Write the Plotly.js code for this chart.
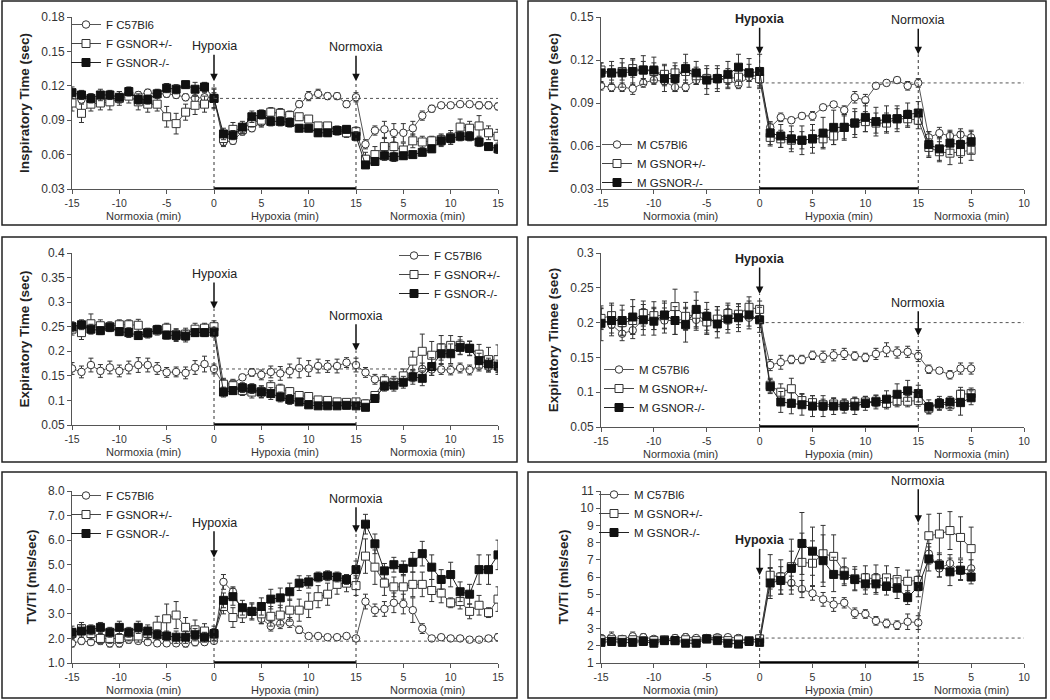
<!DOCTYPE html>
<html>
<head>
<meta charset="utf-8">
<script src="https://cdn.plot.ly/plotly-3.0.1.min.js"></script>
<style>
  body { margin: 0; background: #fff; }
  #chart { width: 1050px; height: 700px; }
</style>
</head>
<body>
<div id="chart"></div>
<script>
// time axis: -15..0 normoxia, 0..15 hypoxia, then recovery normoxia
const minutesF = [-15,-14,-13,-12,-11,-10,-9,-8,-7,-6,-5,-4,-3,-2,-1,0,1,2,3,4,5,6,7,8,9,10,11,12,13,14,15,16,17,18,19,20,21,22,23,24,25,26,27,28,29,30];
const minutesM = [-15,-14,-13,-12,-11,-10,-9,-8,-7,-6,-5,-4,-3,-2,-1,0,1,2,3,4,5,6,7,8,9,10,11,12,13,14,15,16,17,18,19,20];
const tickValsF = [-15,-10,-5,0,5,10,15,20,25,30];
const tickTextF = ['-15','-10','-5','0','5','10','15','5','10','15'];
const tickValsM = [-15,-10,-5,0,5,10,15,20,25];
const tickTextM = ['-15','-10','-5','0','5','10','15','5','10'];
const genotypes = ['C57Bl6', 'GSNOR+/-', 'GSNOR-/-'];
const phaseLabels = ['Normoxia (min)', 'Hypoxia (min)', 'Normoxia (min)'];

// female inspiratory time
const fInspC57 = [0.110,0.108,0.110,0.107,0.108,0.110,0.112,0.112,0.114,0.113,0.113,0.112,0.110,0.109,0.110,0.110, 0.071,0.072,0.080,0.083,0.088,0.096,0.097,0.093,0.104,0.111,0.113,0.111,0.111,0.104,0.110, 0.069,0.081,0.082,0.079,0.079,0.083,0.094,0.100,0.103,0.103,0.104,0.104,0.103,0.103,0.102];
const fInspHet = [0.105,0.096,0.104,0.105,0.106,0.109,0.111,0.106,0.104,0.104,0.093,0.087,0.097,0.103,0.104,0.109, 0.074,0.082,0.082,0.088,0.090,0.097,0.096,0.094,0.093,0.091,0.085,0.085,0.081,0.079,0.080, 0.056,0.060,0.067,0.067,0.064,0.072,0.071,0.072,0.073,0.075,0.084,0.083,0.085,0.079,0.076];
const fInspKo = [0.114,0.112,0.109,0.112,0.112,0.110,0.115,0.108,0.108,0.113,0.118,0.117,0.121,0.117,0.119,0.109, 0.078,0.077,0.084,0.093,0.095,0.089,0.089,0.088,0.083,0.083,0.079,0.079,0.081,0.082,0.076, 0.051,0.054,0.059,0.058,0.059,0.060,0.062,0.065,0.072,0.074,0.076,0.076,0.071,0.067,0.065];
const fInspC57Err = [0.003,0.003,0.003,0.004,0.003,0.003,0.003,0.003,0.003,0.003,0.003,0.003,0.003,0.003,0.004,0.004, 0.004,0.003,0.003,0.003,0.004,0.004,0.003,0.003,0.003,0.004,0.004,0.003,0.003,0.003,0.004, 0.004,0.004,0.007,0.008,0.008,0.006,0.004,0.003,0.002,0.002,0.002,0.002,0.003,0.003,0.003];
const fInspHetErr = [0.007,0.008,0.006,0.006,0.007,0.006,0.006,0.007,0.007,0.006,0.009,0.009,0.007,0.008,0.007,0.008, 0.006,0.006,0.004,0.004,0.005,0.004,0.004,0.004,0.003,0.003,0.003,0.003,0.004,0.004,0.004, 0.006,0.007,0.007,0.008,0.006,0.006,0.005,0.004,0.005,0.006,0.007,0.006,0.009,0.006,0.006];
const fInspKoErr = [0.005,0.004,0.004,0.005,0.004,0.005,0.004,0.004,0.004,0.004,0.004,0.004,0.003,0.006,0.004,0.009, 0.005,0.004,0.005,0.005,0.004,0.004,0.004,0.004,0.003,0.003,0.003,0.003,0.003,0.003,0.004, 0.003,0.003,0.004,0.004,0.003,0.003,0.003,0.003,0.005,0.005,0.004,0.004,0.004,0.003,0.004];

// male inspiratory time
const mInspC57 = [0.102,0.101,0.101,0.100,0.104,0.106,0.105,0.101,0.101,0.106,0.107,0.107,0.106,0.103,0.108,0.106, 0.073,0.080,0.078,0.081,0.081,0.087,0.089,0.085,0.094,0.092,0.102,0.104,0.106,0.102,0.104, 0.066,0.069,0.067,0.068,0.066];
const mInspHet = [0.113,0.111,0.112,0.114,0.113,0.112,0.110,0.111,0.112,0.109,0.107,0.107,0.107,0.108,0.111,0.107, 0.066,0.065,0.064,0.064,0.065,0.065,0.067,0.073,0.076,0.077,0.076,0.076,0.079,0.079,0.078, 0.059,0.056,0.055,0.056,0.057];
const mInspKo = [0.111,0.111,0.111,0.112,0.113,0.113,0.107,0.107,0.114,0.111,0.106,0.107,0.110,0.115,0.111,0.112, 0.069,0.067,0.065,0.064,0.065,0.069,0.073,0.073,0.076,0.080,0.077,0.079,0.079,0.082,0.083, 0.061,0.058,0.062,0.061,0.063];
const mInspC57Err = [0.003,0.003,0.003,0.004,0.003,0.003,0.003,0.003,0.003,0.003,0.003,0.003,0.003,0.003,0.003,0.004, 0.003,0.003,0.002,0.002,0.003,0.002,0.002,0.003,0.004,0.004,0.002,0.002,0.002,0.003,0.003, 0.004,0.004,0.004,0.004,0.004];
const mInspHetErr = [0.005,0.005,0.006,0.006,0.006,0.006,0.007,0.007,0.006,0.006,0.007,0.007,0.007,0.006,0.006,0.006, 0.006,0.006,0.006,0.006,0.006,0.006,0.006,0.008,0.008,0.007,0.007,0.007,0.007,0.006,0.006, 0.006,0.007,0.008,0.008,0.007];
const mInspKoErr = [0.007,0.008,0.010,0.009,0.010,0.009,0.009,0.009,0.010,0.008,0.010,0.009,0.009,0.009,0.010,0.012, 0.008,0.008,0.009,0.010,0.010,0.011,0.012,0.009,0.010,0.010,0.010,0.009,0.009,0.008,0.008, 0.009,0.008,0.008,0.009,0.008];

// female expiratory time
const fExpC57 = [0.165,0.158,0.172,0.160,0.167,0.160,0.167,0.172,0.172,0.165,0.157,0.158,0.156,0.167,0.174,0.164, 0.133,0.135,0.147,0.157,0.152,0.158,0.155,0.160,0.166,0.165,0.170,0.169,0.170,0.177,0.172, 0.157,0.143,0.138,0.135,0.142,0.150,0.164,0.163,0.163,0.162,0.166,0.162,0.170,0.168,0.167];
const fExpHet = [0.245,0.238,0.256,0.252,0.250,0.254,0.254,0.253,0.238,0.243,0.247,0.234,0.235,0.245,0.247,0.250, 0.133,0.130,0.120,0.117,0.118,0.128,0.123,0.118,0.110,0.108,0.101,0.100,0.097,0.096,0.097, 0.093,0.110,0.140,0.137,0.150,0.180,0.200,0.192,0.207,0.212,0.212,0.206,0.194,0.183,0.183];
const fExpKo = [0.250,0.254,0.245,0.242,0.249,0.240,0.238,0.232,0.237,0.244,0.233,0.232,0.231,0.238,0.238,0.239, 0.117,0.120,0.126,0.124,0.117,0.114,0.107,0.102,0.097,0.091,0.089,0.089,0.089,0.090,0.089, 0.086,0.104,0.129,0.131,0.137,0.148,0.145,0.169,0.195,0.195,0.208,0.206,0.181,0.174,0.170];
const fExpC57Err = [0.012,0.012,0.014,0.013,0.013,0.012,0.013,0.015,0.014,0.012,0.010,0.010,0.012,0.014,0.016,0.010, 0.010,0.008,0.006,0.008,0.010,0.012,0.014,0.014,0.020,0.016,0.014,0.012,0.014,0.010,0.014, 0.010,0.010,0.010,0.010,0.012,0.012,0.012,0.012,0.010,0.010,0.010,0.010,0.010,0.010,0.010];
const fExpHetErr = [0.012,0.014,0.020,0.012,0.010,0.010,0.010,0.012,0.008,0.010,0.010,0.012,0.012,0.012,0.010,0.012, 0.012,0.010,0.010,0.012,0.012,0.012,0.010,0.008,0.008,0.006,0.006,0.006,0.006,0.006,0.006, 0.008,0.008,0.012,0.012,0.014,0.020,0.035,0.028,0.025,0.020,0.018,0.014,0.020,0.025,0.030];
const fExpKoErr = [0.010,0.010,0.010,0.008,0.008,0.008,0.010,0.008,0.010,0.008,0.008,0.012,0.012,0.008,0.008,0.010, 0.010,0.008,0.010,0.010,0.012,0.012,0.010,0.010,0.006,0.005,0.005,0.005,0.005,0.005,0.005, 0.006,0.008,0.010,0.012,0.012,0.015,0.015,0.018,0.020,0.020,0.015,0.015,0.015,0.012,0.012];

// male expiratory time
const mExpC57 = [0.205,0.197,0.184,0.189,0.205,0.205,0.203,0.203,0.205,0.204,0.200,0.205,0.205,0.208,0.207,0.205, 0.139,0.143,0.147,0.147,0.153,0.151,0.153,0.155,0.152,0.150,0.155,0.161,0.157,0.158,0.152, 0.133,0.131,0.125,0.134,0.134];
const mExpHet = [0.206,0.210,0.200,0.203,0.213,0.210,0.210,0.223,0.209,0.212,0.201,0.205,0.213,0.212,0.222,0.219, 0.110,0.100,0.105,0.088,0.085,0.082,0.083,0.082,0.085,0.086,0.087,0.084,0.087,0.087,0.088, 0.077,0.083,0.082,0.097,0.098];
const mExpKo = [0.199,0.203,0.203,0.208,0.204,0.202,0.211,0.203,0.197,0.219,0.209,0.198,0.205,0.207,0.211,0.204, 0.108,0.086,0.084,0.082,0.080,0.080,0.080,0.080,0.080,0.084,0.086,0.090,0.097,0.102,0.098, 0.079,0.084,0.086,0.085,0.092];
const mExpC57Err = [0.015,0.012,0.010,0.012,0.015,0.015,0.018,0.020,0.015,0.015,0.015,0.018,0.015,0.015,0.012,0.012, 0.008,0.010,0.006,0.006,0.006,0.008,0.008,0.008,0.006,0.006,0.008,0.010,0.008,0.008,0.008, 0.006,0.004,0.006,0.008,0.008];
const mExpHetErr = [0.015,0.018,0.018,0.020,0.018,0.020,0.018,0.025,0.020,0.020,0.018,0.018,0.015,0.015,0.015,0.012, 0.010,0.012,0.015,0.010,0.010,0.008,0.008,0.008,0.008,0.008,0.008,0.008,0.008,0.008,0.008, 0.008,0.008,0.008,0.010,0.008];
const mExpKoErr = [0.025,0.022,0.022,0.025,0.022,0.020,0.020,0.020,0.025,0.025,0.020,0.020,0.020,0.020,0.020,0.018, 0.010,0.015,0.015,0.015,0.015,0.015,0.012,0.010,0.012,0.010,0.010,0.012,0.015,0.015,0.012, 0.010,0.010,0.008,0.018,0.010];

// female TV/Ti
const fTvC57 = [1.80,1.90,1.85,1.90,1.80,1.80,1.95,1.90,1.85,1.80,1.80,1.80,1.80,1.85,1.85,1.90, 4.30,3.90,3.10,3.10,2.80,2.50,2.60,2.65,2.35,2.10,2.10,2.05,2.05,2.10,2.00, 3.50,3.15,3.20,3.45,3.40,3.15,2.40,2.00,2.05,2.00,2.00,1.95,1.95,2.00,2.05];
const fTvHet = [2.20,2.40,2.20,2.00,2.00,2.00,2.10,2.10,2.20,2.50,2.80,2.95,2.45,2.35,2.30,2.15, 3.30,2.85,3.00,3.10,3.00,2.90,2.95,3.15,3.15,3.35,3.70,3.80,4.20,4.25,4.15, 5.35,4.90,4.25,4.10,4.10,4.20,4.20,3.95,3.85,3.45,3.50,3.10,3.35,3.05,3.60];
const fTvKo = [2.25,2.30,2.35,2.45,2.25,2.45,2.25,2.45,2.30,2.15,2.10,2.05,2.05,2.15,2.05,2.20, 3.55,3.70,3.25,3.10,3.30,3.60,3.65,3.90,4.25,4.30,4.50,4.55,4.50,4.40,4.80, 6.65,5.85,4.75,5.00,4.85,5.10,5.45,4.90,4.40,4.60,3.90,3.80,4.80,4.80,5.40];
const fTvC57Err = [0.15,0.15,0.12,0.15,0.15,0.15,0.15,0.12,0.10,0.10,0.12,0.10,0.15,0.15,0.12,0.10, 0.30,0.20,0.20,0.15,0.20,0.20,0.20,0.20,0.15,0.10,0.10,0.10,0.08,0.08,0.08, 0.30,0.25,0.30,0.40,0.40,0.50,0.20,0.10,0.10,0.10,0.10,0.10,0.10,0.10,0.15];
const fTvHetErr = [0.20,0.25,0.25,0.20,0.20,0.20,0.20,0.25,0.25,0.40,0.60,0.55,0.40,0.40,0.30,0.25, 0.30,0.40,0.35,0.35,0.40,0.40,0.40,0.45,0.45,0.50,0.45,0.45,0.40,0.35,0.40, 0.70,0.70,0.50,0.40,0.50,0.50,0.50,0.45,0.40,0.20,0.30,0.30,0.40,0.20,0.50];
const fTvKoErr = [0.25,0.25,0.20,0.20,0.20,0.25,0.20,0.25,0.25,0.20,0.20,0.25,0.25,0.25,0.20,0.30, 0.30,0.35,0.30,0.30,0.35,0.40,0.40,0.35,0.30,0.25,0.20,0.20,0.20,0.20,0.35, 0.40,0.40,0.30,0.30,0.30,0.40,0.50,0.50,0.40,0.50,0.40,0.40,0.60,0.60,0.60];

// male TV/Ti
const mTvC57 = [2.45,2.50,2.40,2.55,2.50,2.40,2.35,2.45,2.50,2.45,2.45,2.50,2.50,2.45,2.30,2.45, 5.90,5.75,5.65,5.30,5.05,4.70,4.40,4.50,3.90,3.85,3.45,3.30,3.20,3.40,3.35, 7.35,6.50,6.80,6.35,6.50];
const mTvHet = [2.35,2.35,2.35,2.35,2.30,2.30,2.35,2.30,2.35,2.30,2.40,2.40,2.30,2.35,2.30,2.40, 6.10,6.00,6.60,6.85,6.80,7.35,7.20,6.30,5.90,5.95,5.90,5.95,5.85,5.75,5.80, 8.40,8.50,8.70,8.30,7.65];
const mTvKo = [2.20,2.25,2.20,2.20,2.25,2.15,2.30,2.30,2.15,2.15,2.40,2.30,2.15,2.10,2.25,2.20, 5.65,5.80,6.50,7.95,7.50,6.95,6.15,6.10,5.85,5.60,5.60,5.45,5.35,4.80,5.45, 7.05,6.70,6.30,6.40,6.00];
const mTvC57Err = [0.20,0.30,0.15,0.25,0.20,0.15,0.15,0.20,0.20,0.15,0.20,0.15,0.15,0.20,0.15,0.15, 0.60,0.50,0.40,0.50,0.40,0.40,0.40,0.30,0.30,0.25,0.25,0.25,0.25,0.45,0.40, 0.60,0.50,0.50,0.50,0.50];
const mTvHetErr = [0.15,0.20,0.15,0.20,0.20,0.15,0.20,0.15,0.15,0.15,0.20,0.15,0.15,0.15,0.15,0.15, 1.20,1.00,1.60,1.70,1.30,1.65,1.25,0.80,0.70,0.70,0.80,0.70,0.70,0.65,0.60, 1.25,1.20,1.10,1.20,1.25];
const mTvKoErr = [0.15,0.15,0.15,0.15,0.20,0.15,0.20,0.20,0.15,0.20,0.20,0.15,0.15,0.15,0.15,0.15, 0.90,0.80,1.00,1.80,1.40,1.50,1.00,0.50,0.60,0.60,0.60,0.50,0.60,0.40,0.60, 0.70,0.70,0.80,0.60,0.40];

const hypoxiaStart = 0, hypoxiaEnd = 15;

const W = 1050, H = 700;
const fx = p => p / W;
const fy = p => 1 - p / H;

// plot: [left, right, top, bottom] in px; box = panel frame; leg = legend top-left px
const panels = [
  {sex: 'F', x: minutesF, vals: [fInspC57, fInspHet, fInspKo], errs: [fInspC57Err, fInspHetErr, fInspKoErr],
   yTitle: 'Inspiratory Time (sec)', range: [0.03, 0.18], dtick: 0.03, fmt: '.2f', xMax: 30,
   tv: tickValsF, tt: tickTextF, phaseX: [-7.5, 7.5, 22.5], base: 0.109, hypTip: 0.124, normTip: 0.124,
   boldHyp: false, normAy: -34, plot: [72, 498, 17, 189], box: [2, 517, 1, 225], leg: [66, 10]},
  {sex: 'M', x: minutesM, vals: [mInspC57, mInspHet, mInspKo], errs: [mInspC57Err, mInspHetErr, mInspKoErr],
   yTitle: 'Inspiratory Time (sec)', range: [0.03, 0.15], dtick: 0.03, fmt: '.2f', xMax: 25,
   tv: tickValsM, tt: tickTextM, phaseX: [-7.5, 7.5, 20], base: 0.104, hypTip: 0.124, normTip: 0.124,
   boldHyp: true, normAy: -34, plot: [601, 1024, 17, 189], box: [528, 1046, 1, 225], leg: [597, 130]},
  {sex: 'F', x: minutesF, vals: [fExpC57, fExpHet, fExpKo], errs: [fExpC57Err, fExpHetErr, fExpKoErr],
   yTitle: 'Expiratory Time (sec)', range: [0.05, 0.4], dtick: 0.05, fmt: '', xMax: 30,
   tv: tickValsF, tt: tickTextF, phaseX: [-7.5, 7.5, 22.5], base: 0.164, hypTip: 0.286, normTip: 0.201,
   boldHyp: false, normAy: -35, plot: [72, 498, 253, 425], box: [2, 517, 237, 462], leg: [394, 241]},
  {sex: 'M', x: minutesM, vals: [mExpC57, mExpHet, mExpKo], errs: [mExpC57Err, mExpHetErr, mExpKoErr],
   yTitle: 'Expiratory Timee (sec)', range: [0.05, 0.3], dtick: 0.05, fmt: '', xMax: 25,
   tv: tickValsM, tt: tickTextM, phaseX: [-7.5, 7.5, 20], base: 0.2, hypTip: 0.241, normTip: 0.181,
   boldHyp: true, normAy: -33, plot: [601, 1024, 253, 427], box: [528, 1046, 237, 462], leg: [599, 355]},
  {sex: 'F', x: minutesF, vals: [fTvC57, fTvHet, fTvKo], errs: [fTvC57Err, fTvHetErr, fTvKoErr],
   yTitle: 'TV/Ti (mls/sec)', range: [1, 8], dtick: 1, fmt: '.1f', xMax: 30,
   tv: tickValsF, tt: tickTextF, phaseX: [-7.5, 7.5, 22.5], base: 1.89, hypTip: 5.28, normTip: 6.3,
   boldHyp: false, normAy: -34, plot: [72, 498, 491, 663], box: [2, 517, 472, 698], leg: [66, 481]},
  {sex: 'M', x: minutesM, vals: [mTvC57, mTvHet, mTvKo], errs: [mTvC57Err, mTvHetErr, mTvKoErr],
   yTitle: 'TV/Ti (mls/sec)', range: [1, 11], dtick: 1, fmt: '', xMax: 25,
   tv: tickValsM, tt: tickTextM, phaseX: [-7.5, 7.5, 20], base: 2.45, hypTip: 6.1, normTip: 9.16,
   boldHyp: true, normAy: -42, plot: [601, 1024, 491, 663], box: [528, 1046, 472, 698], leg: [594, 480]}
];

const markers = [
  {symbol: 'circle', size: 7.5, color: '#fff', line: {color: '#333', width: 1}},
  {symbol: 'square', size: 8, color: '#fff', line: {color: '#333', width: 1}},
  {symbol: 'square', size: 8, color: '#111', line: {color: '#111', width: 1}}
];
const lineColors = ['#555', '#444', '#222'];

const font = 'Liberation Sans, Arial, sans-serif';
const traces = [];
const shapes = [];
const annotations = [];
const layout = {
  width: W, height: H,
  margin: {l: 0, r: 0, t: 0, b: 0},
  paper_bgcolor: '#fff', plot_bgcolor: '#fff',
  font: {family: font, color: '#222', size: 12},
  showlegend: true
};

panels.forEach((p, i) => {
  const n = i === 0 ? '' : String(i + 1);
  const xa = 'x' + n, ya = 'y' + n, lg = 'legend' + n;

  p.vals.forEach((v, k) => {
    traces.push({
      type: 'scatter', mode: 'lines+markers',
      x: p.x, y: v, xaxis: xa, yaxis: ya, legend: lg,
      name: p.sex + ' ' + genotypes[k],
      line: {color: lineColors[k], width: 1},
      marker: markers[k],
      error_y: {type: 'data', array: p.errs[k], color: '#333', thickness: 1, width: 2.5}
    });
  });

  layout['xaxis' + n] = {
    domain: [fx(p.plot[0]), fx(p.plot[1])], anchor: ya,
    range: [-15, p.xMax], tickmode: 'array', tickvals: p.tv, ticktext: p.tt,
    showline: true, linecolor: '#555', linewidth: 1, ticks: 'outside', ticklen: 4, tickcolor: '#555',
    showgrid: false, zeroline: false, tickfont: {size: 10.5, color: '#333'}, automargin: false
  };
  layout['yaxis' + n] = {
    domain: [fy(p.plot[3]), fy(p.plot[2])], anchor: xa,
    range: p.range, dtick: p.dtick, tick0: p.range[0], tickformat: p.fmt,
    showline: true, linecolor: '#555', linewidth: 1, ticks: 'outside', ticklen: 4, tickcolor: '#555',
    showgrid: false, zeroline: false, tickfont: {size: 12, color: '#333'}, automargin: false,
    title: {text: '<b>' + p.yTitle + '</b>', font: {size: 13.5, color: '#222'}, standoff: 8}
  };
  layout[lg] = {
    x: fx(p.leg[0]), y: fy(p.leg[1]), xanchor: 'left', yanchor: 'top',
    bgcolor: 'rgba(0,0,0,0)', font: {size: 11.5, color: '#222'}, tracegroupgap: 0
  };

  // panel frame
  shapes.push({type: 'rect', xref: 'paper', yref: 'paper',
    x0: fx(p.box[0]), x1: fx(p.box[1]), y0: fy(p.box[3]), y1: fy(p.box[2]),
    line: {color: '#222', width: 1.5}});
  // hypoxia period bar on the x axis
  shapes.push({type: 'line', xref: xa, yref: ya, x0: hypoxiaStart, x1: hypoxiaEnd,
    y0: p.range[0], y1: p.range[0], line: {color: '#000', width: 3.5}});
  // baseline and markers of gas switch
  shapes.push({type: 'line', xref: xa, yref: ya, x0: hypoxiaStart, x1: p.xMax,
    y0: p.base, y1: p.base, line: {color: '#555', width: 1, dash: 'dot'}});
  shapes.push({type: 'line', xref: xa, yref: ya, x0: hypoxiaStart, x1: hypoxiaStart,
    y0: p.range[0], y1: p.hypTip, line: {color: '#333', width: 1, dash: 'dot'}});
  shapes.push({type: 'line', xref: xa, yref: ya, x0: hypoxiaEnd, x1: hypoxiaEnd,
    y0: p.range[0], y1: p.normTip, line: {color: '#333', width: 1, dash: 'dot'}});

  annotations.push({xref: xa, yref: ya, x: hypoxiaStart, y: p.hypTip,
    text: p.boldHyp ? '<b>Hypoxia</b>' : 'Hypoxia', showarrow: true, ax: 0, ay: -35,
    arrowhead: 2, arrowsize: 1, arrowwidth: 1.5, arrowcolor: '#111',
    font: {size: 12.5, color: '#222'}});
  annotations.push({xref: xa, yref: ya, x: hypoxiaEnd, y: p.normTip,
    text: 'Normoxia', showarrow: true, ax: 0, ay: p.normAy,
    arrowhead: 2, arrowsize: 1, arrowwidth: 1.5, arrowcolor: '#111',
    font: {size: 12.5, color: '#222'}});

  phaseLabels.forEach((t, j) => {
    annotations.push({xref: xa, yref: ya + ' domain', x: p.phaseX[j], y: 0,
      yanchor: 'top', yshift: -19, text: t, showarrow: false,
      font: {size: 11, color: '#333'}});
  });
});

layout.shapes = shapes;
layout.annotations = annotations;

Plotly.newPlot('chart', traces, layout, {displayModeBar: false, staticPlot: true});
</script>
</body>
</html>
